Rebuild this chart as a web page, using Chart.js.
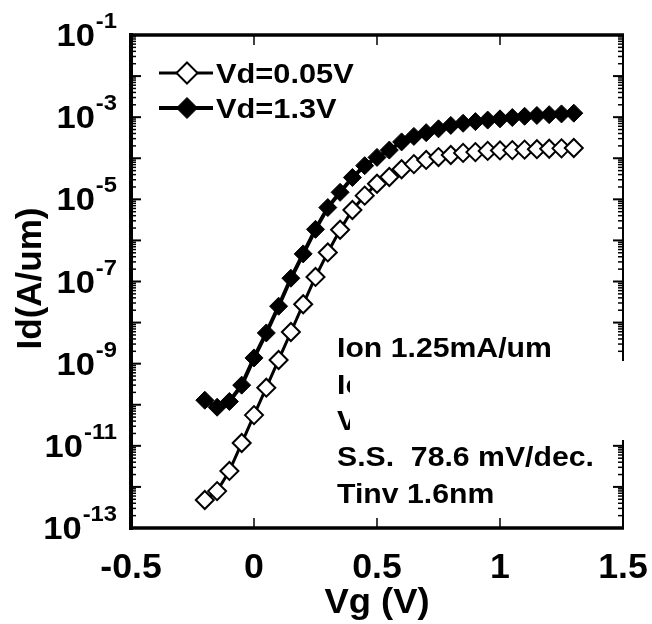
<!DOCTYPE html>
<html>
<head>
<meta charset="utf-8">
<script src="https://cdn.jsdelivr.net/npm/chart.js@4.4.1/dist/chart.umd.min.js"></script>
<style>
  body { margin: 0; background: #fff; }
</style>
</head>
<body>
<canvas id="myChart" width="652" height="624"></canvas>
<script>
// DATA
const vg = [-0.2, -0.15, -0.1, -0.05, 0, 0.05, 0.1, 0.15, 0.2, 0.25, 0.3, 0.35, 0.4, 0.45, 0.5,
  0.55, 0.6, 0.65, 0.7, 0.75, 0.8, 0.85, 0.9, 0.95, 1.0, 1.05, 1.1, 1.15, 1.2, 1.25, 1.3];

// Vd = 0.05V (open diamonds)
const idLow = [4.8e-13, 7.9e-13, 2.45e-12, 1.17e-11, 5.6e-11, 2.6e-10, 1.23e-9, 5.9e-9, 2.8e-8, 1.29e-7,
  5.1e-7, 1.82e-6, 5.5e-6, 1.23e-5, 2.4e-5, 3.5e-5, 5.4e-5, 7.2e-5, 9.1e-5, 1.07e-4,
  1.2e-4, 1.35e-4, 1.41e-4, 1.51e-4, 1.55e-4, 1.58e-4, 1.62e-4, 1.66e-4, 1.7e-4, 1.74e-4, 1.78e-4];

// Vd = 1.3V (filled diamonds)
const idHigh = [1.29e-10, 8.7e-11, 1.2e-10, 3.0e-10, 1.38e-9, 5.6e-9, 2.5e-8, 1.2e-7, 4.7e-7, 1.86e-6,
  6.3e-6, 1.48e-5, 3.4e-5, 6.6e-5, 1.05e-4, 1.58e-4, 2.5e-4, 3.4e-4, 4.2e-4, 5.2e-4,
  6.3e-4, 7.1e-4, 7.8e-4, 8.5e-4, 9.1e-4, 9.8e-4, 1.05e-3, 1.1e-3, 1.15e-3, 1.2e-3, 1.25e-3];

const seriesNames = ["Vd=0.05V", "Vd=1.3V"];
const xTicks = [-0.5, 0, 0.5, 1, 1.5];
const xTickLabels = ["-0.5", "0", "0.5", "1", "1.5"];
const yDecades = [-13, -12, -11, -10, -9, -8, -7, -6, -5, -4, -3, -2, -1];
const yLabelExps = [-13, -11, -9, -7, -5, -3, -1];
const notes = ["Ion 1.25mA/um", "Io", "V", "S.S.  78.6 mV/dec.", "Tinv 1.6nm"];

const FONT = "'Liberation Sans', Arial, sans-serif";

function toPoints(ys) {
  return vg.map(function (v, i) {
    return { x: v, y: ys[i] };
  });
}

// text slightly stretched sideways, like the original figure
function wideText(ctx, s, x, y, size, align, sx) {
  ctx.save();
  ctx.font = "bold " + size + "px " + FONT;
  ctx.textAlign = align;
  ctx.textBaseline = "alphabetic";
  ctx.translate(x, y);
  ctx.scale(sx, 1);
  ctx.fillText(s, 0, 0);
  ctx.restore();
}

function textWidth(ctx, s, size, sx) {
  ctx.font = "bold " + size + "px " + FONT;
  return ctx.measureText(s).width * sx;
}

// FRAME, INWARD TICKS, LABELS, LEGEND AND NOTES
const decorations = {
  id: "decorations",
  afterDraw(chart) {
    const ctx = chart.ctx;
    const xs = chart.scales.x;
    const ys = chart.scales.y;
    const left = xs.getPixelForValue(-0.5);
    const right = xs.getPixelForValue(1.5);
    const top = ys.getPixelForValue(1e-1);
    const bottom = ys.getPixelForValue(1e-13);

    ctx.save();
    ctx.strokeStyle = "#000";
    ctx.fillStyle = "#000";

    function seg(x1, y1, x2, y2, w) {
      ctx.lineWidth = w;
      ctx.beginPath();
      ctx.moveTo(x1, y1);
      ctx.lineTo(x2, y2);
      ctx.stroke();
    }

    // y ticks (left and right, pointing in)
    yDecades.forEach(function (e) {
      const py = ys.getPixelForValue(Math.pow(10, e));
      seg(left, py, left + 10, py, 2);
      seg(right, py, right - 10, py, 2);
      if (e < -1) {
        for (let m = 2; m <= 9; m++) {
          const pm = ys.getPixelForValue(m * Math.pow(10, e));
          seg(left, pm, left + 5, pm, 1.5);
          seg(right, pm, right - 5, pm, 1.5);
        }
      }
    });

    // x ticks (bottom and top, pointing in)
    xTicks.forEach(function (t) {
      const px = xs.getPixelForValue(t);
      seg(px, bottom, px, bottom - 10, 1.5);
      seg(px, top, px, top + 10, 1.5);
    });

    // frame
    seg(left, top - 2, left, bottom + 2, 4);
    seg(left - 2, bottom, right + 1, bottom, 3.5);
    seg(left - 2, top, right + 1, top, 3.5);
    seg(right, top, right, bottom, 2);

    // y tick labels 10^e
    yLabelExps.forEach(function (e) {
      const py = ys.getPixelForValue(Math.pow(10, e));
      const sup = String(e);
      const sx = 1.08;
      const wBase = textWidth(ctx, "10", 32, sx);
      const wSup = textWidth(ctx, sup, 22, sx);
      const xEnd = 117;
      wideText(ctx, "10", xEnd - wSup - wBase - 1, py + 11, 32, "left", sx);
      wideText(ctx, sup, xEnd - wSup, py - 7, 22, "left", sx);
    });

    // x tick labels
    xTicks.forEach(function (t, i) {
      wideText(ctx, xTickLabels[i], xs.getPixelForValue(t), 578, 35, "center", 1.02);
    });

    // axis titles
    wideText(ctx, "Vg (V)", (left + right) / 2, 613, 35, "center", 1.04);
    ctx.save();
    ctx.translate(41, (top + bottom) / 2 - 3);
    ctx.rotate(-Math.PI / 2);
    ctx.font = "bold 35px " + FONT;
    ctx.textAlign = "center";
    ctx.fillText("Id(A/um)", 0, 0);
    ctx.restore();

    // legend
    const legendY = [73, 108];
    chart.data.datasets.forEach(function (ds, i) {
      const ly = legendY[i];
      seg(159, ly, 213, ly, ds.borderWidth);
      ctx.beginPath();
      const r = 10.5;
      ctx.moveTo(187, ly - r);
      ctx.lineTo(187 + r, ly);
      ctx.lineTo(187, ly + r);
      ctx.lineTo(187 - r, ly);
      ctx.closePath();
      ctx.fillStyle = ds.pointBackgroundColor;
      ctx.fill();
      ctx.lineWidth = ds.pointBorderWidth;
      ctx.stroke();
      ctx.fillStyle = "#000";
      wideText(ctx, ds.label, 216, ly + 10, 28.5, "left", 1.08);
    });

    // notes
    const noteY = [357, 394, 430, 466, 503];
    notes.forEach(function (s, i) {
      wideText(ctx, s, 337, noteY[i], 28.5, "left", 1.06);
    });
    // white patch hiding part of the notes and the right axis
    ctx.fillStyle = "#fff";
    ctx.fillRect(350, 361, 300, 79);

    ctx.restore();
  },
};

const myChart = document.getElementById("myChart").getContext("2d");

const idChart = new Chart(myChart, {
  type: "line",
  data: {
    datasets: [
      {
        label: seriesNames[0],
        data: toPoints(idLow),
        borderColor: "#000",
        borderWidth: 3,
        pointStyle: "rectRot",
        pointRadius: 9,
        pointBackgroundColor: "#fff",
        pointBorderColor: "#000",
        pointBorderWidth: 2,
        tension: 0,
      },
      {
        label: seriesNames[1],
        data: toPoints(idHigh),
        borderColor: "#000",
        borderWidth: 4,
        pointStyle: "rectRot",
        pointRadius: 9,
        pointBackgroundColor: "#000",
        pointBorderColor: "#000",
        pointBorderWidth: 1,
        tension: 0,
      },
    ],
  },
  options: {
    responsive: false,
    animation: false,
    devicePixelRatio: 1,
    layout: {
      padding: { left: 131, right: 29, top: 35, bottom: 96 },
    },
    plugins: {
      legend: { display: false },
      tooltip: { enabled: false },
    },
    scales: {
      x: {
        type: "linear",
        display: false,
        min: -0.5,
        max: 1.5,
      },
      y: {
        type: "logarithmic",
        display: false,
        min: 1e-13,
        max: 1e-1,
      },
    },
  },
  plugins: [decorations],
});
</script>
</body>
</html>
